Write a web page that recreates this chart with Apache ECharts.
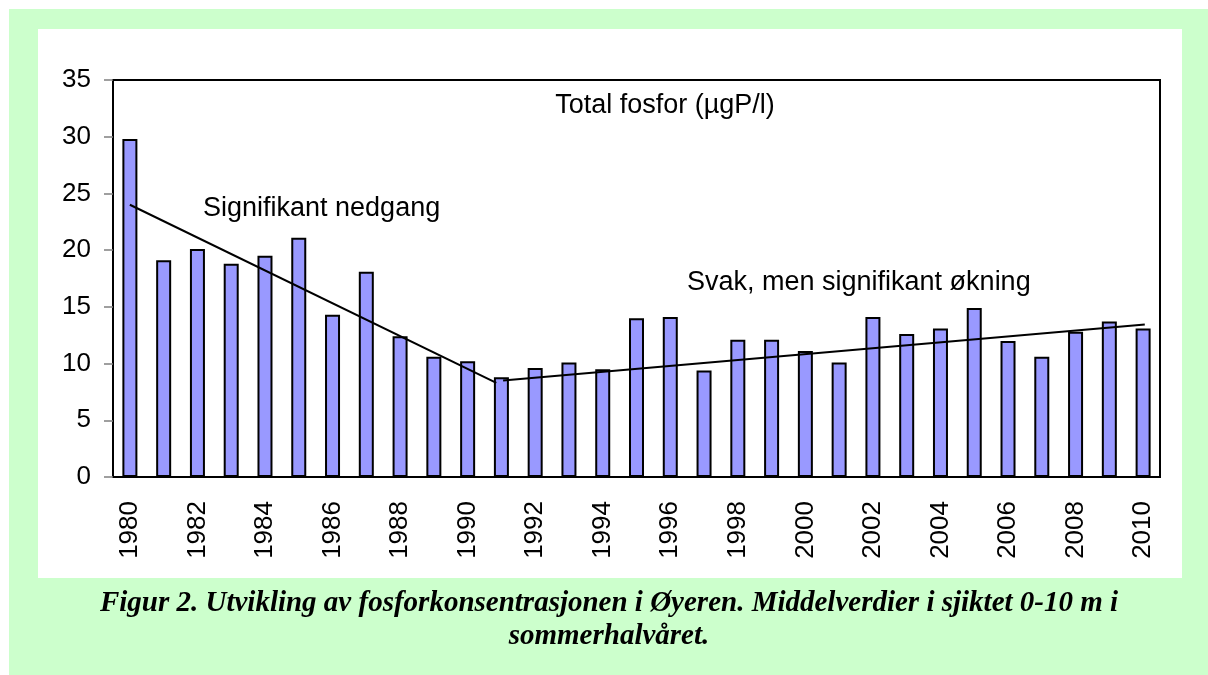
<!DOCTYPE html>
<html>
<head>
<meta charset="utf-8">
<script src="https://cdn.jsdelivr.net/npm/echarts@6/dist/echarts.min.js"></script>
<style>
  html, body { margin: 0; padding: 0; background: #fff; }
  #chart { width: 1208px; height: 675px; }
</style>
</head>
<body>
<div id="chart"></div>
<script>
// år og middelverdier total fosfor (µgP/l)
const years = [];
for (let y = 1980; y <= 2010; y++) years.push(String(y));
const fosfor = [29.8, 19.1, 20.1, 18.8, 19.5, 21.1, 14.3, 18.1, 12.4, 10.6,
  10.2, 8.8, 9.6, 10.1, 9.5, 14.0, 14.1, 9.4, 12.1, 12.1,
  11.1, 10.1, 14.1, 12.6, 13.1, 14.9, 12.0, 10.6, 12.8, 13.7, 13.1];
// trendlinjer, x = kategoriindeks
const trendNed = [[0, 24.0], [10.85, 8.3]];
const trendOpp = [[11.05, 8.5], [30.05, 13.45]];
const yTicks = [0, 35, 5]; // min, max, intervall

const font = 'Liberation Sans, Arial, sans-serif';
const capFont = 'italic bold 29px Liberation Serif, Times New Roman, serif';
const chart = echarts.init(document.getElementById('chart'));

chart.setOption({
  backgroundColor: '#fff',
  animation: false,
  graphic: [
    // grønn ramme og hvitt felt
    { type: 'rect', z: -10, shape: { x: 9, y: 9, width: 1199, height: 666 }, style: { fill: '#ccffcc' } },
    { type: 'rect', z: -9, shape: { x: 38, y: 29, width: 1144, height: 549 }, style: { fill: '#fff' } },
    { type: 'text', z: 10,
      style: { text: 'Total fosfor (µgP/l)', font: '27px ' + font, fill: '#000', x: 665, y: 106, align: 'center', verticalAlign: 'middle' } },
    { type: 'text', z: 10,
      style: { text: 'Signifikant nedgang', font: '27px ' + font, fill: '#000', x: 203, y: 209, verticalAlign: 'middle' } },
    { type: 'text', z: 10,
      style: { text: 'Svak, men signifikant økning', font: '27px ' + font, fill: '#000', x: 687, y: 283, verticalAlign: 'middle' } },
    { type: 'text', z: 10,
      style: { text: 'Figur 2. Utvikling av fosforkonsentrasjonen i Øyeren. Middelverdier i sjiktet 0-10 m i',
        font: capFont, fill: '#000', x: 609, y: 604, align: 'center', verticalAlign: 'middle' } },
    { type: 'text', z: 10,
      style: { text: 'sommerhalvåret.', font: capFont, fill: '#000', x: 609, y: 637, align: 'center', verticalAlign: 'middle' } }
  ],
  grid: {
    left: 113, top: 80, right: 48, bottom: 198,
    show: true, borderColor: '#000', borderWidth: 2, backgroundColor: '#fff'
  },
  xAxis: [
    {
      type: 'category',
      data: years,
      axisLine: { onZero: false, lineStyle: { color: '#000', width: 2 } },
      axisTick: { interval: 0, length: 10, lineStyle: { color: '#808080', width: 1.5 } },
      axisLabel: { interval: 1, rotate: 90, margin: 24, fontSize: 26, fontFamily: font, color: '#000' }
    },
    { type: 'value', min: -0.5, max: 30.5, show: false }
  ],
  yAxis: {
    type: 'value',
    min: yTicks[0], max: yTicks[1], interval: yTicks[2],
    splitLine: { show: false },
    axisLine: { show: true, onZero: false, lineStyle: { color: '#000', width: 2 } },
    axisTick: { show: true, length: 9, lineStyle: { color: '#808080', width: 1.5 } },
    axisLabel: { margin: 22, fontSize: 26, fontFamily: font, color: '#000' }
  },
  series: [
    {
      type: 'bar',
      data: fosfor,
      barWidth: 15,
      itemStyle: { color: '#9999ff', borderColor: '#000', borderWidth: 2 }
    },
    {
      type: 'line', xAxisIndex: 1, data: trendNed, symbol: 'none',
      lineStyle: { color: '#000', width: 2 }, z: 5
    },
    {
      type: 'line', xAxisIndex: 1, data: trendOpp, symbol: 'none',
      lineStyle: { color: '#000', width: 2 }, z: 5
    }
  ]
});
</script>
</body>
</html>
